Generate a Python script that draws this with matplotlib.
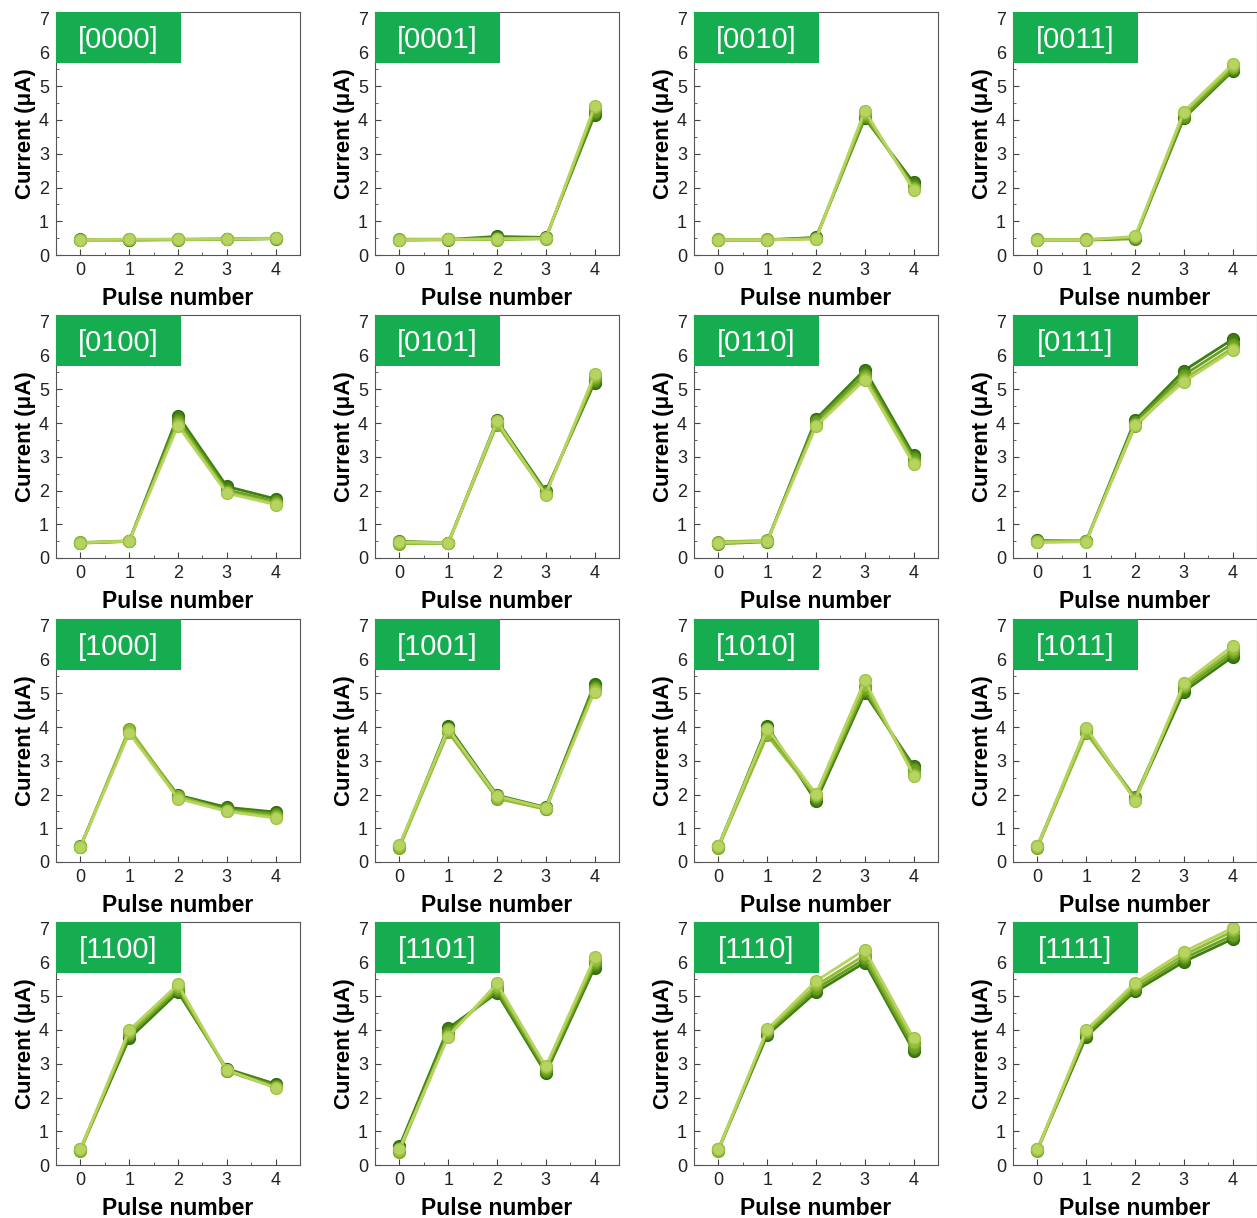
import matplotlib
matplotlib.use('Agg')
import matplotlib.pyplot as plt
from matplotlib.ticker import MultipleLocator
from matplotlib.patches import Rectangle

plt.rcParams['font.family'] = ['Liberation Sans', 'DejaVu Sans']

pulse = [0, 1, 2, 3, 4]
codes = ['[0000]', '[0001]', '[0010]', '[0011]',
         '[0100]', '[0101]', '[0110]', '[0111]',
         '[1000]', '[1001]', '[1010]', '[1011]',
         '[1100]', '[1101]', '[1110]', '[1111]']

# four repeated measurements per code (dark -> light)
i0000 = [[0.44, 0.45, 0.46, 0.47, 0.49], [0.46, 0.44, 0.45, 0.46, 0.48],
         [0.45, 0.46, 0.47, 0.48, 0.50], [0.45, 0.47, 0.46, 0.47, 0.49]]
i0001 = [[0.45, 0.46, 0.55, 0.52, 4.15], [0.44, 0.45, 0.50, 0.50, 4.25],
         [0.47, 0.47, 0.45, 0.48, 4.35], [0.45, 0.46, 0.48, 0.49, 4.42]]
i0010 = [[0.45, 0.45, 0.52, 4.05, 2.15], [0.44, 0.44, 0.50, 4.10, 2.05],
         [0.46, 0.46, 0.48, 4.18, 1.98], [0.45, 0.45, 0.47, 4.28, 1.92]]
i0011 = [[0.45, 0.45, 0.50, 4.05, 5.45], [0.44, 0.44, 0.48, 4.10, 5.50],
         [0.46, 0.46, 0.52, 4.20, 5.58], [0.45, 0.45, 0.55, 4.25, 5.65]]
i0100 = [[0.45, 0.50, 4.22, 2.12, 1.75], [0.44, 0.49, 4.10, 2.02, 1.68],
         [0.46, 0.51, 4.00, 1.95, 1.62], [0.45, 0.50, 3.92, 1.92, 1.58]]
i0101 = [[0.45, 0.44, 4.08, 1.98, 5.20], [0.50, 0.45, 4.00, 1.95, 5.28],
         [0.42, 0.44, 3.95, 1.90, 5.35], [0.47, 0.45, 4.05, 1.88, 5.45]]
i0110 = [[0.45, 0.50, 4.12, 5.58, 3.05], [0.42, 0.48, 4.05, 5.45, 2.95],
         [0.48, 0.52, 3.95, 5.35, 2.85], [0.45, 0.50, 3.90, 5.28, 2.78]]
i0111 = [[0.52, 0.50, 4.08, 5.55, 6.48], [0.48, 0.49, 4.02, 5.42, 6.35],
         [0.50, 0.51, 3.90, 5.30, 6.22], [0.46, 0.48, 3.95, 5.22, 6.15]]
i1000 = [[0.45, 3.90, 1.98, 1.62, 1.48], [0.46, 3.85, 1.92, 1.56, 1.42],
         [0.44, 3.95, 1.95, 1.52, 1.35], [0.45, 3.82, 1.88, 1.50, 1.30]]
i1001 = [[0.45, 4.02, 1.98, 1.62, 5.28], [0.48, 3.92, 1.92, 1.58, 5.20],
         [0.42, 3.85, 1.88, 1.56, 5.12], [0.50, 3.95, 1.95, 1.60, 5.05]]
i1010 = [[0.45, 4.02, 1.80, 5.00, 2.85], [0.48, 3.88, 1.90, 5.10, 2.75],
         [0.42, 3.75, 1.95, 5.22, 2.62], [0.46, 3.95, 2.02, 5.38, 2.55]]
i1011 = [[0.45, 3.95, 1.85, 5.05, 6.08], [0.48, 3.88, 1.92, 5.15, 6.18],
         [0.42, 3.82, 1.88, 5.22, 6.28], [0.46, 3.98, 1.82, 5.30, 6.40]]
i1100 = [[0.45, 3.75, 5.12, 2.85, 2.40], [0.48, 3.85, 5.20, 2.80, 2.35],
         [0.42, 3.92, 5.28, 2.78, 2.30], [0.46, 4.00, 5.35, 2.82, 2.28]]
i1101 = [[0.55, 4.05, 5.10, 2.72, 5.85], [0.45, 3.95, 5.18, 2.80, 5.95],
         [0.40, 3.85, 5.28, 2.88, 6.05], [0.48, 3.80, 5.38, 2.92, 6.15]]
i1110 = [[0.45, 3.85, 5.12, 6.00, 3.38], [0.48, 3.92, 5.22, 6.10, 3.48],
         [0.42, 3.98, 5.32, 6.22, 3.62], [0.46, 4.02, 5.45, 6.38, 3.75]]
i1111 = [[0.45, 3.80, 5.15, 6.02, 6.70], [0.48, 3.88, 5.22, 6.12, 6.80],
         [0.42, 3.95, 5.32, 6.22, 6.92], [0.46, 4.00, 5.40, 6.32, 7.02]]

panels = [i0000, i0001, i0010, i0011, i0100, i0101, i0110, i0111,
          i1000, i1001, i1010, i1011, i1100, i1101, i1110, i1111]

shades = ['#3f7f12', '#6a9f22', '#92bb36', '#b8d460']
edges = ['#2f6a0c', '#558a18', '#7aa62a', '#9fc24a']
box_green = '#16ad50'

W, H = 1257, 1218
fig = plt.figure(figsize=(W / 100, H / 100), dpi=100)

col_left = [56, 375, 694, 1013]
row_top = [12, 315, 619, 922]
aw, ah = 244, 243

for k, (code, traces) in enumerate(zip(codes, panels)):
    r, c = divmod(k, 4)
    ax = fig.add_axes([col_left[c] / W, 1 - (row_top[r] + ah) / H, aw / W, ah / H])
    for tr, col, ec in zip(traces, shades, edges):
        ax.plot(pulse, tr, '-o', color=col, lw=2, ms=8.5, mfc=col, mec=ec, mew=1)
    ax.set_xlim(-0.5, 4.5)
    ax.set_ylim(0, 7.2)
    ax.xaxis.set_major_locator(MultipleLocator(1))
    ax.xaxis.set_minor_locator(MultipleLocator(0.5))
    ax.yaxis.set_major_locator(MultipleLocator(1))
    ax.yaxis.set_minor_locator(MultipleLocator(0.5))
    ax.tick_params(which='both', direction='in', colors='#444444', labelcolor='#222222')
    ax.tick_params(which='major', length=4, labelsize=13, pad=5)
    ax.tick_params(which='minor', length=2)
    for s in ax.spines.values():
        s.set_color('#555555')
    ax.set_xlabel('Pulse number', fontsize=16.5, fontweight='bold', labelpad=6)
    ax.set_ylabel('Current (\u03bcA)', fontsize=16, fontweight='bold', labelpad=2)
    ax.add_patch(Rectangle((0, 1 - 51 / ah), 125 / aw, 51 / ah, transform=ax.transAxes,
                           facecolor=box_green, edgecolor='none', zorder=5))
    ax.text(62 / aw, 1 - 28 / ah, code, transform=ax.transAxes, ha='center', va='center',
            color='white', fontsize=21, zorder=6)

fig.savefig('out.png', dpi=100)
